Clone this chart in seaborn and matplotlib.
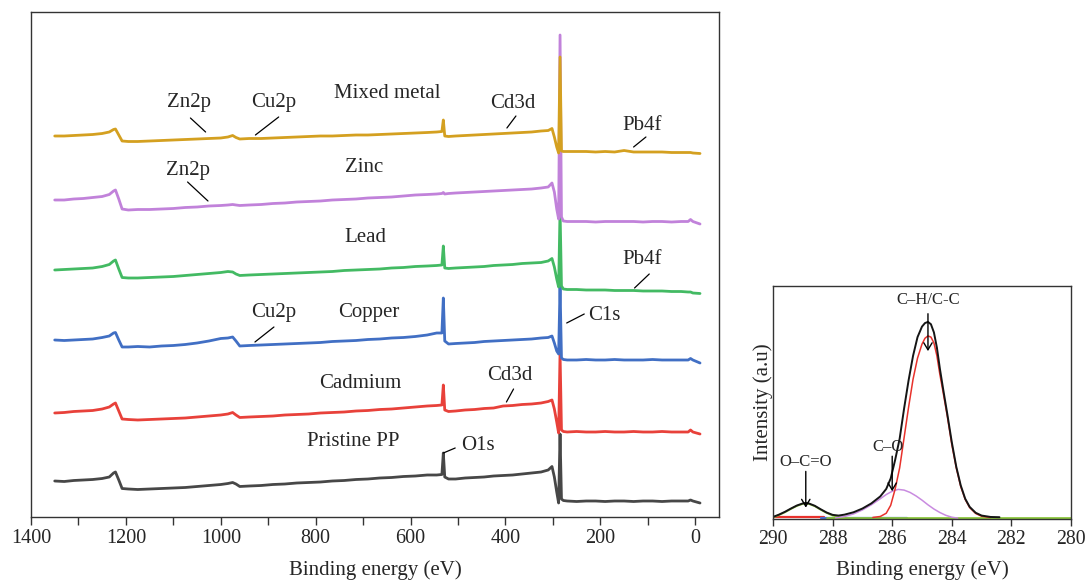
import matplotlib
matplotlib.use("Agg")
import matplotlib.pyplot as plt
import pandas as pd
import seaborn as sns

# ---------------- survey spectra (stacked, a.u.) ----------------
energy = [1350, 1330, 1310, 1290, 1270, 1250, 1235, 1226, 1222, 1215,
          1208, 1195, 1175, 1150, 1125, 1100, 1075, 1050, 1025, 1000,
          985, 975, 968, 960, 940, 915, 890, 865, 840, 815,
          790, 765, 740, 715, 690, 665, 640, 615, 590, 565,
          545, 534, 531, 528, 520, 505, 485, 465, 445, 425,
          405, 385, 365, 345, 325, 310, 302, 297, 292, 288,
          285, 282, 278, 270, 250, 230, 210, 190, 170, 150,
          130, 110, 90, 70, 50, 30, 15, 10, 5, -10]

pristine = [36, 35.5, 36.5, 37, 37.5, 38.5, 40, 44, 45, 37,
            28.5, 28, 27.5, 28, 28.5, 29, 29.5, 30.5, 31.5, 32.5,
            33.5, 34.5, 33, 30.5, 31, 31.5, 32.5, 33, 34, 34.5,
            35, 36, 36.5, 37.5, 38, 39, 39.5, 40.5, 41, 42,
            42, 42.5, 64, 40, 38, 38, 39, 39.5, 40, 41,
            41.5, 42, 43, 44, 45, 47, 50.5, 40, 25, 14,
            83, 18, 16.5, 16, 15.5, 16, 16, 15.5, 16, 16,
            15.5, 16, 16, 15.5, 16, 16, 16, 17, 16, 14]

cadmium = [104, 104.5, 105.5, 106, 106.5, 108, 110, 113, 114, 106,
           98, 97.5, 97, 97.5, 98, 98.5, 99, 100, 101, 102,
           103, 104.5, 102, 99.5, 100, 100.5, 101, 102, 102.5, 103,
           104, 104.5, 105, 106, 106.5, 107.5, 108, 109, 110, 111,
           111.5, 112, 132, 107, 105.5, 106, 107, 107.5, 108.5, 109,
           111, 111.5, 112.5, 113, 114, 115.5, 117, 108, 95, 84,
           164, 87, 85.5, 85, 85.5, 85, 85, 85.5, 85, 85,
           85.5, 85, 85, 85.5, 85, 85, 85, 87, 85, 83]

copper = [177, 176.5, 177, 177.5, 178, 179.5, 181, 184, 184.5, 177,
          170, 170, 170.5, 170, 171, 171.5, 172.5, 174, 176, 178.5,
          179, 180, 176, 171, 171.5, 172, 172.5, 173, 173.5, 174,
          174.5, 175.5, 176, 176.5, 177.5, 178, 179, 179.5, 180.5, 182,
          184, 184, 219, 176, 173, 173.5, 174, 174.5, 175.5, 176,
          176.5, 177, 177.5, 178, 179, 179.5, 181, 174, 166, 163,
          231, 159, 157.5, 157, 157, 157.5, 157, 157, 157.5, 157,
          157, 157, 157.5, 157, 157, 157, 157, 158.5, 157, 154]

lead = [247, 247.5, 248, 248.5, 249, 250.5, 252.5, 256, 257, 248,
        239.5, 239, 239, 239.5, 240, 240.5, 241.5, 242.5, 243.5, 244.5,
        245.5, 245, 243, 241.5, 242, 242.5, 243, 243.5, 244, 244.5,
        245, 245.5, 246.5, 247, 247.5, 248, 249, 249.5, 250.5, 251,
        251.5, 252, 271, 249, 248.5, 249, 249.5, 250, 250.5, 251.5,
        252, 252.5, 253.5, 254, 254.5, 256, 258.5, 250, 238, 230,
        307, 231, 228, 227.5, 227.5, 227, 227, 227, 226.5, 226.5,
        226.5, 226, 226, 226, 225.5, 225.5, 225, 225, 224, 223.5]

zinc = [317, 317, 318, 318.5, 319.5, 320.5, 322.5, 326, 327, 318,
        308, 307, 307.5, 307.5, 308, 308.5, 309.5, 310, 311, 311.5,
        312, 312.5, 312, 311.5, 312, 312.5, 313.5, 314, 315, 315.5,
        316, 317, 317.5, 318, 319, 319.5, 320, 321, 322, 322.5,
        323, 323.5, 324.5, 323, 323.5, 324, 324.5, 325, 325.5, 326,
        326.5, 327, 327.5, 328, 329, 330, 334, 325, 308, 298,
        482, 300, 296, 295.5, 295.5, 295.5, 295, 295.5, 295.5, 295.5,
        295.5, 295, 295.5, 295.5, 295, 295.5, 295.5, 297.5, 295.5, 293]

mixed = [381, 381, 381.5, 382, 382.5, 383.5, 385, 387.5, 388, 382,
         376, 375.5, 375.5, 376, 376.5, 377, 377.5, 378, 378.5, 379,
         380, 381.5, 379.5, 378, 378.5, 378.5, 379, 379.5, 380, 380.5,
         381, 381, 381.5, 382, 382, 382.5, 383, 383.5, 384, 384.5,
         385, 385.5, 397, 381, 380.5, 381, 381.5, 382, 382.5, 383,
         383.5, 384, 384.5, 385, 386, 386.5, 388.5, 380, 370, 364,
         460, 366, 365.5, 365.5, 365.5, 365.5, 365, 365.5, 365, 366.5,
         365, 365, 365, 365, 364.5, 364.5, 364.5, 364.5, 364, 363.5]

samples = ["Pristine PP", "Cadmium", "Copper", "Lead", "Zinc", "Mixed metal"]
sample_colors = ["#474747", "#E8413A", "#416FC4", "#43BA63", "#C182DA", "#D4A020"]
survey_values = [pristine, cadmium, copper, lead, zinc, mixed]

# ---------------- high-resolution C1s spectrum (a.u.) ----------------
env_e = [290.0, 289.8, 289.6, 289.4, 289.2, 289.0, 288.9, 288.8, 288.6, 288.4,
         288.2, 288.0, 287.8, 287.6, 287.3, 287.0, 286.7, 286.4, 286.2, 286.05,
         285.9, 285.75, 285.6, 285.45, 285.3, 285.15, 285.0, 284.9, 284.8, 284.7,
         284.6, 284.5, 284.4, 284.3, 284.15, 284.0, 283.85, 283.7, 283.55, 283.4,
         283.2, 283.0, 282.7, 282.4]
env_i = [1.0, 2.0, 3.2, 4.6, 5.9, 6.8, 7.0, 6.8, 5.8, 4.3,
         2.9, 1.9, 1.6, 2.0, 3.0, 4.6, 6.8, 9.8, 13.0, 17.5,
         25.5, 34.5, 47.5, 59.5, 70, 78, 82.5, 84, 84.5, 83.5,
         80, 73.5, 64.5, 56.5, 45, 33, 22.5, 14.5, 8.8, 5.3,
         2.8, 1.6, 1.0, 0.9]

chc_e = [286.65, 286.4, 286.2, 286.05, 285.9, 285.75, 285.6, 285.45, 285.3, 285.15,
         285.0, 284.9, 284.8, 284.7, 284.6, 284.5, 284.4, 284.3, 284.15, 284.0,
         283.85, 283.7, 283.55, 283.4, 283.2, 283.0, 282.7]
chc_i = [0.8, 1.2, 2.6, 6, 13, 22, 35, 48, 60, 69,
         75, 77.5, 78.5, 78, 75.5, 70, 62, 55, 44, 32,
         22, 14, 8.5, 5, 2.5, 1.3, 0.8]

co_e = [287.9, 287.6, 287.3, 287.0, 286.7, 286.4, 286.2, 286.0, 285.8, 285.6,
        285.4, 285.2, 285.0, 284.8, 284.6, 284.4, 284.2, 284.0, 283.8]
co_i = [0.6, 1.2, 2.3, 4.0, 6.2, 8.8, 10.6, 12.0, 12.8, 12.5,
        11.5, 10.0, 8.2, 6.2, 4.4, 2.9, 1.7, 0.9, 0.5]

oco_e = [290.0, 289.8, 289.6, 289.4, 289.2, 289.0, 288.9, 288.8, 288.6, 288.4,
         288.2, 288.0, 287.8, 287.6]
oco_i = [0.8, 1.8, 3.0, 4.4, 5.7, 6.6, 6.8, 6.6, 5.6, 4.1,
         2.7, 1.6, 1.0, 0.7]

base_red_e, base_red_i = [290.0, 288.3], [0.9, 0.9]
base_blue_e, base_blue_i = [288.4, 285.5], [0.6, 0.6]
base_green_e, base_green_i = [288.2, 280.0], [0.5, 0.5]

# ---------------- styling ----------------
sns.set_style("ticks")
plt.rcParams["font.family"] = ["Liberation Serif", "DejaVu Serif"]
plt.rcParams["axes.edgecolor"] = "#333333"
plt.rcParams["axes.linewidth"] = 1.0

fig = plt.figure(figsize=(10.88, 5.84), dpi=100)
ax = fig.add_axes([31 / 1088, 67 / 584, 688 / 1088, 505 / 584])
ax2 = fig.add_axes([773 / 1088, 64.7 / 584, 298 / 1088, 233.6 / 584])

# survey panel
survey = pd.DataFrame({
    "energy": energy * len(samples),
    "intensity": [v for vals in survey_values for v in vals],
    "sample": [s for s in samples for _ in energy],
})
sns.lineplot(data=survey, x="energy", y="intensity", hue="sample",
             hue_order=samples, palette=sample_colors, estimator=None,
             linewidth=2.0, legend=False, ax=ax)

ax.set_xlim(1400, -50)
ax.set_ylim(0, 505)
ax.set_xticks(range(0, 1401, 200))
ax.set_xticks(range(100, 1400, 200), minor=True)
ax.set_yticks([])
ax.tick_params(axis="x", which="both", direction="out", length=5.5, width=1.0,
               labelsize=14.5, pad=3, color="#333333")
ax.set_xlabel("Binding energy (eV)", fontsize=15, labelpad=9)
ax.set_ylabel("")
for sp in ax.spines.values():
    sp.set_visible(True)

fs = 15
names = [("Mixed metal", 649, 424), ("Zinc", 698, 350), ("Lead", 696, 279),
         ("Copper", 687, 204), ("Cadmium", 707, 134), ("Pristine PP", 721, 75)]
for txt, x, y in names:
    ax.text(x, y, txt, fontsize=fs, ha="center", va="center")

peaks = [("Zn2p", 1068, 414, (1064, 399), (1032, 385)),
         ("Cu2p", 889, 415, (878, 400), (927, 382)),
         ("Cd3d", 384, 414, (378, 401), (397, 389)),
         ("Pb4f", 113, 392, (104, 380), (130, 370)),
         ("Zn2p", 1070, 347, (1070, 335), (1027, 316)),
         ("Pb4f", 112, 257, (97, 243), (128, 229)),
         ("Cu2p", 889, 204, (888, 190), (928, 175)),
         ("Cd3d", 391, 141, (383, 128), (398, 115)),
         ("O1s", 459, 72, (506, 69), (531, 64))]
for txt, x, y, p0, p1 in peaks:
    ax.text(x, y, txt, fontsize=fs, ha="center", va="center")
    ax.annotate("", xy=p1, xytext=p0,
                arrowprops=dict(arrowstyle="-", lw=0.9, color="black",
                                shrinkA=0, shrinkB=0))
ax.text(192, 202, "C1s", fontsize=fs, ha="center", va="center")
ax.annotate("", xy=(271, 194), xytext=(234, 203),
            arrowprops=dict(arrowstyle="-", lw=0.9, color="black",
                            shrinkA=0, shrinkB=0))

# C1s panel
hr_frames = []
for name, e, i in [("base_red", base_red_e, base_red_i),
                   ("base_blue", base_blue_e, base_blue_i),
                   ("base_green", base_green_e, base_green_i),
                   ("O-C=O", oco_e, oco_i),
                   ("C-O", co_e, co_i),
                   ("C-H/C-C", chc_e, chc_i),
                   ("envelope", env_e, env_i)]:
    hr_frames.append(pd.DataFrame({"energy": e, "intensity": i, "component": name}))
hr = pd.concat(hr_frames, ignore_index=True)
hr_order = ["base_red", "base_blue", "base_green", "O-C=O", "C-O", "C-H/C-C", "envelope"]
hr_colors = ["#E8322C", "#4A6FD0", "#8CC63E", "#8CC63E", "#C98BE0", "#E8322C", "#151515"]
hr_widths = [1.6, 1.6, 2.0, 1.3, 1.1, 1.1, 1.4]
for comp, col, w in zip(hr_order, hr_colors, hr_widths):
    sns.lineplot(data=hr[hr["component"] == comp], x="energy", y="intensity",
                 color=col, linewidth=w, estimator=None, legend=False, ax=ax2)

ax2.set_xlim(290, 280)
ax2.set_ylim(0, 100)
ax2.set_xticks(range(280, 291, 2))
ax2.set_yticks([])
ax2.tick_params(axis="x", direction="out", length=5, width=1.0, labelsize=14.2,
                pad=3, color="#333333")
ax2.set_xlabel("Binding energy (eV)", fontsize=15, labelpad=8)
ax2.set_ylabel("Intensity (a.u)", fontsize=15)
ax2.yaxis.set_label_coords(0.0, 0.5)
for sp in ax2.spines.values():
    sp.set_visible(True)

arrow_kw = dict(arrowstyle="->,head_length=0.5,head_width=0.3", lw=1.0,
                color="black", shrinkA=0, shrinkB=0)
ax2.text(284.8, 94, "C–H/C-C", fontsize=12, ha="center", va="center")
ax2.annotate("", xy=(284.8, 72), xytext=(284.8, 88), arrowprops=arrow_kw)
ax2.text(286.15, 31, "C–O", fontsize=12, ha="center", va="center")
ax2.annotate("", xy=(286.0, 12), xytext=(286.0, 27), arrowprops=arrow_kw)
ax2.text(288.9, 24.5, "O–C=O", fontsize=12, ha="center", va="center")
ax2.annotate("", xy=(288.9, 5), xytext=(288.9, 20.5), arrowprops=arrow_kw)

fig.savefig("out.png", dpi=100)
